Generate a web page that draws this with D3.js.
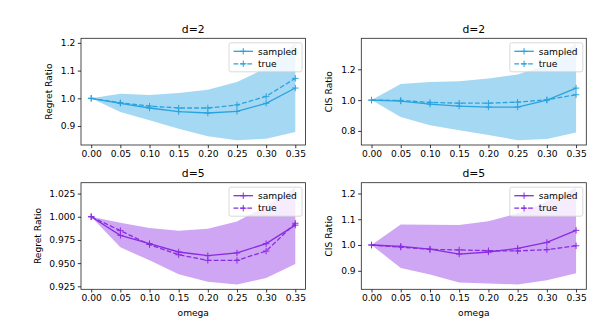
<!DOCTYPE html>
<html><head><meta charset="utf-8">
<script src="https://cdn.jsdelivr.net/npm/d3@7"></script>
<style>body{margin:0;background:#fff}svg{display:block}text{font-family:"DejaVu Sans",sans-serif;fill:#000}</style>
</head><body>
<script>
const omega = [0.00, 0.05, 0.10, 0.15, 0.20, 0.25, 0.30, 0.35];
const xTicks = [0.00, 0.05, 0.10, 0.15, 0.20, 0.25, 0.30, 0.35];

// d=2 Regret
const regret2Sampled = [1.0, 0.982, 0.965, 0.952, 0.947, 0.953, 0.982, 1.037];
const regret2True    = [1.0, 0.984, 0.972, 0.965, 0.965, 0.976, 1.007, 1.072];
const regret2Upper   = [1.0, 1.016, 1.012, 1.019, 1.031, 1.059, 1.109, 1.199];
const regret2Lower   = [1.0, 0.951, 0.921, 0.890, 0.863, 0.849, 0.854, 0.878];
const regret2Ticks   = [0.9, 1.0, 1.1, 1.2];

// d=2 CIS
const cis2Sampled = [1.0, 0.994, 0.974, 0.961, 0.955, 0.955, 1.000, 1.078];
const cis2True    = [1.0, 0.998, 0.985, 0.980, 0.980, 0.987, 1.002, 1.035];
const cis2Upper   = [1.0, 1.104, 1.117, 1.123, 1.141, 1.166, 1.229, 1.370];
const cis2Lower   = [1.0, 0.890, 0.836, 0.805, 0.773, 0.740, 0.747, 0.790];
const cis2Ticks   = [0.8, 1.0, 1.2];

// d=5 Regret
const regret5Sampled = [1.0, 0.980, 0.971, 0.962, 0.958, 0.961, 0.971, 0.991];
const regret5True    = [1.0, 0.985, 0.970, 0.959, 0.953, 0.953, 0.963, 0.993];
const regret5Upper   = [1.0, 0.9935, 0.988, 0.985, 0.987, 0.995, 1.0116, 1.0315];
const regret5Lower   = [1.0, 0.967, 0.953, 0.938, 0.930, 0.927, 0.934, 0.949];
const regret5Ticks   = [0.925, 0.950, 0.975, 1.000, 1.025];

// d=5 CIS
const cis5Sampled = [1.0, 0.995, 0.984, 0.965, 0.973, 0.987, 1.010, 1.057];
const cis5True    = [1.0, 0.992, 0.983, 0.981, 0.978, 0.977, 0.982, 0.997];
const cis5Upper   = [1.0, 1.080, 1.079, 1.078, 1.092, 1.123, 1.168, 1.223];
const cis5Lower   = [1.0, 0.911, 0.886, 0.855, 0.851, 0.847, 0.863, 0.890];
const cis5Ticks   = [0.9, 1.0, 1.1, 1.2];

const seriesNames = ["sampled", "true"];
const blue = "#29a3e0", purple = "#8a2be2";

const W = 606, H = 325;
const svg = d3.select("body").append("svg").attr("width", W).attr("height", H);

const panels = [
  {title:"d=2", ylabel:"Regret Ratio", s:regret2Sampled, t:regret2True, up:regret2Upper, lo:regret2Lower, ticks:regret2Ticks, fmt:".1f", color:blue, x0:81, x1:305.5, y0:38.3, y1:145, xlabel:false, ylabOff:29},
  {title:"d=2", ylabel:"CIS Ratio", s:cis2Sampled, t:cis2True, up:cis2Upper, lo:cis2Lower, ticks:cis2Ticks, fmt:".1f", color:blue, x0:361.3, x1:586.3, y0:38.3, y1:145, xlabel:false, ylabOff:29},
  {title:"d=5", ylabel:"Regret Ratio", s:regret5Sampled, t:regret5True, up:regret5Upper, lo:regret5Lower, ticks:regret5Ticks, fmt:".3f", color:purple, x0:81, x1:305.5, y0:182.7, y1:289.3, xlabel:true, ylabOff:40},
  {title:"d=5", ylabel:"CIS Ratio", s:cis5Sampled, t:cis5True, up:cis5Upper, lo:cis5Lower, ticks:cis5Ticks, fmt:".1f", color:purple, x0:361.3, x1:586.3, y0:182.7, y1:289.3, xlabel:true, ylabOff:29}
];

const FS = 9.1;

panels.forEach(p => {
  const xmin = d3.min(omega), xmax = d3.max(omega), xr = xmax - xmin;
  const x = d3.scaleLinear().domain([xmin - 0.05*xr, xmax + 0.05*xr]).range([p.x0, p.x1]);
  const all = p.up.concat(p.lo, p.s, p.t);
  const ymin = d3.min(all), ymax = d3.max(all), yr = ymax - ymin;
  const y = d3.scaleLinear().domain([ymin - 0.05*yr, ymax + 0.05*yr]).range([p.y1, p.y0]);

  const g = svg.append("g");
  const clipId = "clip" + Math.round(p.x0) + "_" + Math.round(p.y0);
  g.append("clipPath").attr("id", clipId).append("rect")
    .attr("x", p.x0).attr("y", p.y0).attr("width", p.x1 - p.x0).attr("height", p.y1 - p.y0);
  const plot = g.append("g").attr("clip-path", `url(#${clipId})`);

  const area = d3.area().x((d,i) => x(omega[i])).y0((d,i) => y(p.lo[i])).y1((d,i) => y(p.up[i]));
  plot.append("path").datum(p.up).attr("d", area).attr("fill", p.color).attr("fill-opacity", 0.42).attr("stroke", "none");

  const line = d3.line().x((d,i) => x(omega[i])).y(d => y(d));
  const drawSeries = (vals, dashed) => {
    plot.append("path").datum(vals).attr("d", line).attr("fill", "none")
      .attr("stroke", p.color).attr("stroke-width", 1.3)
      .attr("stroke-dasharray", dashed ? "4.8,2.1" : null);
    const m = 3.2;
    plot.selectAll(null).data(vals).enter().append("path")
      .attr("d", (d,i) => `M${x(omega[i])-m},${y(d)}H${x(omega[i])+m}M${x(omega[i])},${y(d)-m}V${y(d)+m}`)
      .attr("stroke", p.color).attr("stroke-width", 1);
  };
  drawSeries(p.t, true);
  drawSeries(p.s, false);

  // axes
  const xAxis = d3.axisBottom(x).tickValues(xTicks).tickFormat(d3.format(".2f")).tickSize(3.2).tickPadding(2.5);
  const gx = g.append("g").attr("transform", `translate(0,${p.y1})`).call(xAxis);
  const yAxis = d3.axisLeft(y).tickValues(p.ticks).tickFormat(d3.format(p.fmt)).tickSize(3.2).tickPadding(2.5);
  const gy = g.append("g").attr("transform", `translate(${p.x0},0)`).call(yAxis);
  [gx, gy].forEach(a => {
    a.select(".domain").remove();
    a.selectAll("line").attr("stroke", "#000").attr("stroke-width", 0.8);
    a.selectAll("text").attr("font-size", FS).attr("font-family", "DejaVu Sans").attr("fill", "#000");
  });
  g.append("rect").attr("x", p.x0).attr("y", p.y0).attr("width", p.x1 - p.x0).attr("height", p.y1 - p.y0)
    .attr("fill", "none").attr("stroke", "#222").attr("stroke-width", 0.8);

  // title
  g.append("text").attr("x", (p.x0 + p.x1)/2).attr("y", p.y0 - 5.5).attr("text-anchor", "middle")
    .attr("font-size", 10.8).text(p.title);
  // ylabel
  g.append("text").attr("transform", `translate(${p.x0 - p.ylabOff},${(p.y0 + p.y1)/2}) rotate(-90)`)
    .attr("text-anchor", "middle").attr("font-size", FS).text(p.ylabel);
  if (p.xlabel) {
    g.append("text").attr("x", (p.x0 + p.x1)/2).attr("y", p.y1 + 27).attr("text-anchor", "middle")
      .attr("font-size", FS).text("omega");
  }

  // legend
  const lw = 73, lh = 29;
  const lx = p.x1 - 3.5 - lw, ly = p.y0 + 4.5;
  const lg = g.append("g");
  lg.append("rect").attr("x", lx).attr("y", ly).attr("width", lw).attr("height", lh).attr("rx", 2)
    .attr("fill", "#fff").attr("fill-opacity", 0.8).attr("stroke", "#d0d0d0").attr("stroke-width", 0.8);
  seriesNames.forEach((name, k) => {
    const yy = ly + 8.5 + k * 12.5;
    lg.append("line").attr("x1", lx + 4.5).attr("x2", lx + 24).attr("y1", yy).attr("y2", yy)
      .attr("stroke", p.color).attr("stroke-width", 1.3).attr("stroke-dasharray", k === 1 ? "4.8,2.1" : null);
    const cx = lx + 14.25, m = 3.2;
    lg.append("path").attr("d", `M${cx-m},${yy}H${cx+m}M${cx},${yy-m}V${yy+m}`).attr("stroke", p.color).attr("stroke-width", 1);
    lg.append("text").attr("x", lx + 29).attr("y", yy + 3.2).attr("font-size", FS).text(name);
  });
});
</script>
</body></html>
